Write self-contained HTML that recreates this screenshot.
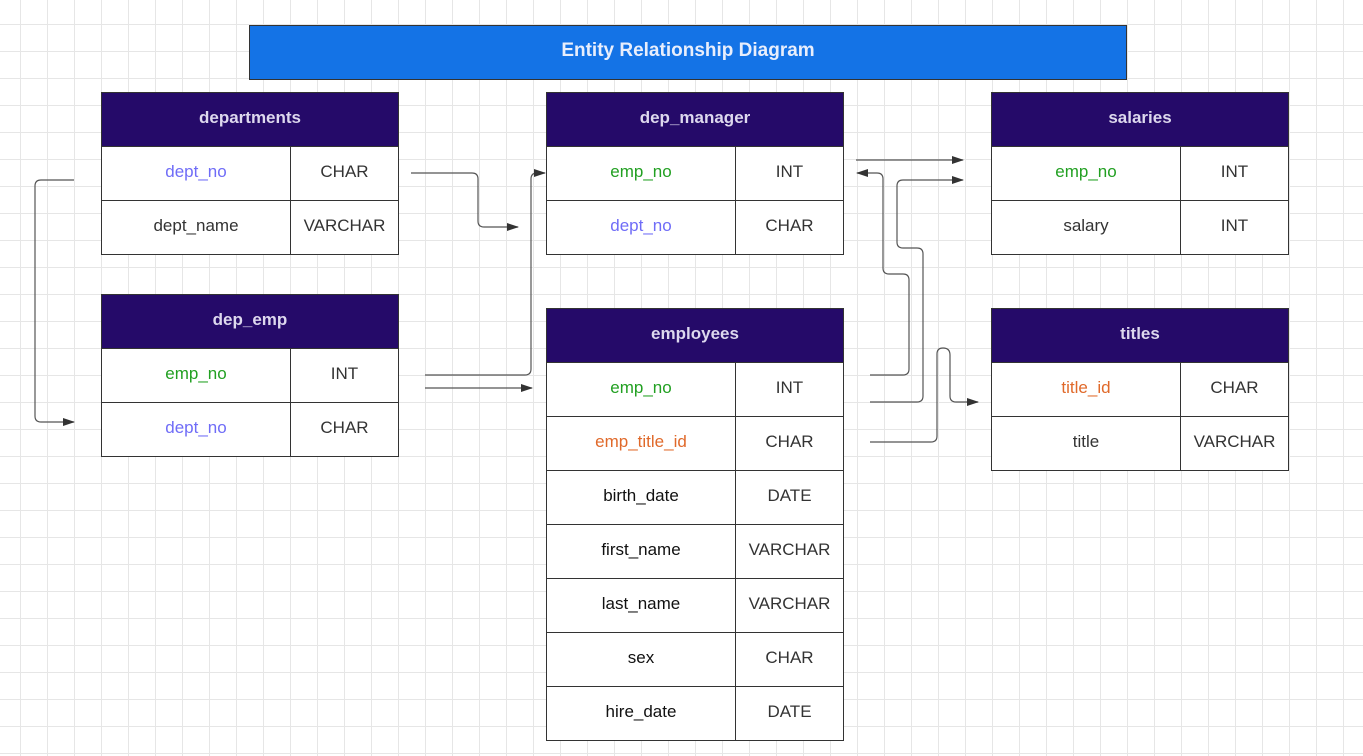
<!DOCTYPE html>
<html><head><meta charset="utf-8"><style>
body{margin:0;width:1363px;height:756px;overflow:hidden;position:relative;font-family:"Liberation Sans",Arial,sans-serif;
background-color:#fff;
background-image:linear-gradient(#e6e6e6 1px,transparent 1px),linear-gradient(90deg,#e6e6e6 1px,transparent 1px);
background-size:27px 27px;background-position:20px 24px;}
.c{position:absolute;box-sizing:border-box;border:1.5px solid #333;background:#fff;display:flex;align-items:center;justify-content:center;font-size:17px;color:#333;padding-bottom:3px}
.h{background:#250a69;color:#ddd8ee;font-weight:bold;}
.g{color:#22a022}.b{color:#6f6cf7}.o{color:#e0692a}.k{color:#111}
svg{position:absolute;left:0;top:0}
</style></head><body>
<div class="c" style="left:249px;top:25px;width:878px;height:55px;background:#1473e6;color:#e8eefc;font-weight:bold;font-size:19px">Entity Relationship Diagram</div>

<div class="c h" style="left:101px;top:92px;width:298px;height:55px">departments</div>
<div class="c b" style="left:101px;top:146px;width:190px;height:55px">dept_no</div>
<div class="c" style="left:290px;top:146px;width:109px;height:55px">CHAR</div>
<div class="c" style="left:101px;top:200px;width:190px;height:55px">dept_name</div>
<div class="c" style="left:290px;top:200px;width:109px;height:55px">VARCHAR</div>

<div class="c h" style="left:101px;top:294px;width:298px;height:55px">dep_emp</div>
<div class="c g" style="left:101px;top:348px;width:190px;height:55px">emp_no</div>
<div class="c" style="left:290px;top:348px;width:109px;height:55px">INT</div>
<div class="c b" style="left:101px;top:402px;width:190px;height:55px">dept_no</div>
<div class="c" style="left:290px;top:402px;width:109px;height:55px">CHAR</div>

<div class="c h" style="left:546px;top:92px;width:298px;height:55px">dep_manager</div>
<div class="c g" style="left:546px;top:146px;width:190px;height:55px">emp_no</div>
<div class="c" style="left:735px;top:146px;width:109px;height:55px">INT</div>
<div class="c b" style="left:546px;top:200px;width:190px;height:55px">dept_no</div>
<div class="c" style="left:735px;top:200px;width:109px;height:55px">CHAR</div>

<div class="c h" style="left:991px;top:92px;width:298px;height:55px">salaries</div>
<div class="c g" style="left:991px;top:146px;width:190px;height:55px">emp_no</div>
<div class="c" style="left:1180px;top:146px;width:109px;height:55px">INT</div>
<div class="c" style="left:991px;top:200px;width:190px;height:55px">salary</div>
<div class="c" style="left:1180px;top:200px;width:109px;height:55px">INT</div>

<div class="c h" style="left:991px;top:308px;width:298px;height:55px">titles</div>
<div class="c o" style="left:991px;top:362px;width:190px;height:55px">title_id</div>
<div class="c" style="left:1180px;top:362px;width:109px;height:55px">CHAR</div>
<div class="c" style="left:991px;top:416px;width:190px;height:55px">title</div>
<div class="c" style="left:1180px;top:416px;width:109px;height:55px">VARCHAR</div>

<div class="c h" style="left:546px;top:308px;width:298px;height:55px">employees</div>
<div class="c g" style="left:546px;top:362px;width:190px;height:55px">emp_no</div>
<div class="c" style="left:735px;top:362px;width:109px;height:55px">INT</div>
<div class="c o" style="left:546px;top:416px;width:190px;height:55px">emp_title_id</div>
<div class="c" style="left:735px;top:416px;width:109px;height:55px">CHAR</div>
<div class="c k" style="left:546px;top:470px;width:190px;height:55px">birth_date</div>
<div class="c" style="left:735px;top:470px;width:109px;height:55px">DATE</div>
<div class="c k" style="left:546px;top:524px;width:190px;height:55px">first_name</div>
<div class="c" style="left:735px;top:524px;width:109px;height:55px">VARCHAR</div>
<div class="c k" style="left:546px;top:578px;width:190px;height:55px">last_name</div>
<div class="c" style="left:735px;top:578px;width:109px;height:55px">VARCHAR</div>
<div class="c k" style="left:546px;top:632px;width:190px;height:55px">sex</div>
<div class="c" style="left:735px;top:632px;width:109px;height:55px">CHAR</div>
<div class="c k" style="left:546px;top:686px;width:190px;height:55px">hire_date</div>
<div class="c" style="left:735px;top:686px;width:109px;height:55px">DATE</div>

<svg width="1363" height="756">
<defs><marker id="a" markerWidth="12" markerHeight="8" refX="11" refY="4" orient="auto" markerUnits="userSpaceOnUse"><path d="M0,0 L12,4 L0,8 Z" fill="#333"/></marker></defs>
<g fill="none" stroke="#555" stroke-width="1.2" marker-end="url(#a)">
<path d="M411,173 H472 Q478,173 478,179 V221 Q478,227 484,227 H518"/>
<path d="M74,180 H41 Q35,180 35,186 V416 Q35,422 41,422 H74"/>
<path d="M425,375 H525 Q531,375 531,369 V179 Q531,173 537,173 H545"/>
<path d="M425,388 H532"/>
<path d="M856,160 H963"/>
<path d="M870,375 H903 Q909,375 909,369 V280 Q909,274 903,274 H889 Q883,274 883,268 V179 Q883,173 877,173 H857"/>
<path d="M870,402 H917 Q923,402 923,396 V254 Q923,248 917,248 H903 Q897,248 897,242 V186 Q897,180 903,180 H963"/>
<path d="M870,442 H931 Q937,442 937,436 V354 Q937,348 943,348 Q950,348 950,355 V396 Q950,402 956,402 H978"/>
</g></svg>
</body></html>
